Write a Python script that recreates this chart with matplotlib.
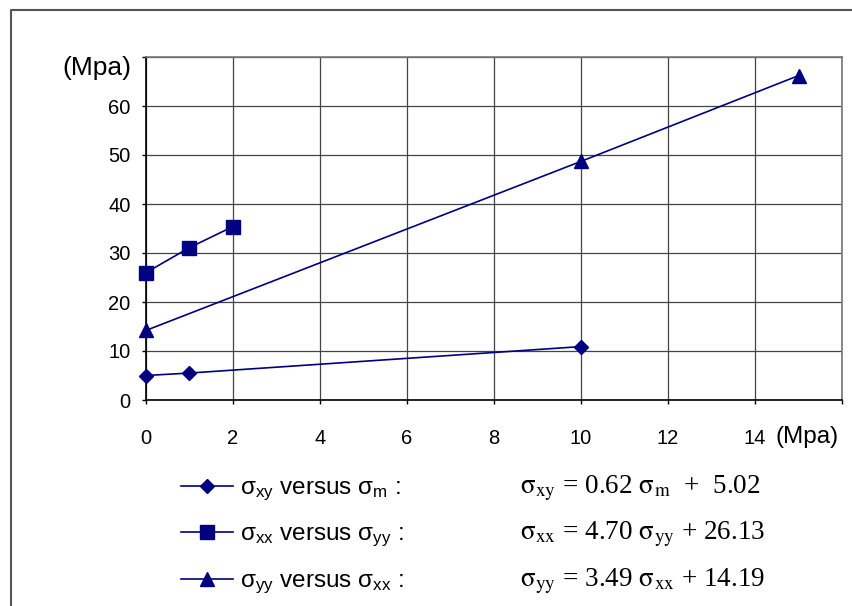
import matplotlib
matplotlib.use("Agg")
import matplotlib.pyplot as plt
from matplotlib.lines import Line2D

# Data
x_xy = [0, 1, 10]
y_xy = [5.0, 5.5, 10.9]
x_xx = [0, 1, 2]
y_xx = [26.0, 31.1, 35.4]
x_yy = [0, 10, 15]
y_yy = [14.2, 48.7, 66.2]

xticks = [0, 2, 4, 6, 8, 10, 12, 14]
yticks = [0, 10, 20, 30, 40, 50, 60, 70]
ytick_labels = ["0", "10", "20", "30", "40", "50", "60", ""]
unit_label = "(Mpa)"

legend_left = [r"$\mathrm{\sigma_{xy}}$ versus $\mathrm{\sigma_{m}}$ :",
               r"$\mathrm{\sigma_{xx}}$ versus $\mathrm{\sigma_{yy}}$ :",
               r"$\mathrm{\sigma_{yy}}$ versus $\mathrm{\sigma_{xx}}$ :"]
legend_right = [r"$\mathrm{\sigma_{xy}}$ = 0.62 $\mathrm{\sigma_{m}}$  +  5.02",
                r"$\mathrm{\sigma_{xx}}$ = 4.70 $\mathrm{\sigma_{yy}}$ + 26.13",
                r"$\mathrm{\sigma_{yy}}$ = 3.49 $\mathrm{\sigma_{xx}}$ + 14.19"]
markers = ["D", "s", "^"]
msizes = [7.5, 10, 10]

plt.rcParams['mathtext.fontset'] = 'custom'
plt.rcParams['mathtext.rm'] = 'Liberation Sans'
plt.rcParams['mathtext.it'] = 'Liberation Sans:italic'
plt.rcParams['font.family'] = ['Liberation Sans', 'DejaVu Sans']

W, H = 853, 606
fig = plt.figure(figsize=(W / 100, H / 100), dpi=100)
ax = fig.add_axes([146 / W, 1 - 400 / H, (842 - 146) / W, (400 - 57) / H])

navy = "#000080"
series = [(x_xy, y_xy), (x_xx, y_xx), (x_yy, y_yy)]
for (xs, ys), m, ms in zip(series, markers, msizes):
    ax.plot(xs, ys, color=navy, lw=1.2, marker=m, ms=ms, mfc=navy, mec=navy, clip_on=False, zorder=3)

ax.set_xlim(0, 16)
ax.set_ylim(0, 70)
ax.set_xticks(xticks + [16])
ax.set_xticklabels([str(t) for t in xticks] + [""])
ax.set_yticks(yticks)
ax.set_yticklabels(ytick_labels)
ax.tick_params(axis='both', direction='out', length=3, width=1, color='black', labelsize=14.5)
ax.tick_params(axis='y', pad=8)
ax.tick_params(axis='x', pad=18)
ax.grid(True, color='#444444', lw=0.9)
ax.set_axisbelow(True)
for s in ['top', 'right']:
    ax.spines[s].set_color('#777777')
    ax.spines[s].set_linewidth(1.2)
for s in ['left', 'bottom']:
    ax.spines[s].set_color('black')
    ax.spines[s].set_linewidth(1.2)

# unit labels
fig.text(131 / W, 1 - 68 / H, unit_label, fontsize=19, ha='right', va='center')
fig.text(839 / W, 1 - 437 / H, unit_label, fontsize=17.5, ha='right', va='center')

# outer frame
fig.add_artist(Line2D([11 / W, 11 / W, 1.0], [0.0, 1 - 10 / H, 1 - 10 / H],
                      transform=fig.transFigure, color='#555555', lw=1.5))

# legend
rows_y = [486, 532, 579]
for y, m, ms, lt, rt in zip(rows_y, markers, msizes, legend_left, legend_right):
    fy = 1 - y / H
    fig.add_artist(Line2D([181 / W, 233 / W], [fy, fy], transform=fig.transFigure,
                          color=navy, lw=1.2))
    fig.add_artist(Line2D([207 / W], [fy], transform=fig.transFigure, marker=m, ms=ms,
                          mfc=navy, mec=navy, color=navy))
    fig.text(240 / W, 1 - (y + 8) / H, lt, fontsize=17.5, ha='left', va='baseline',
             family='Liberation Sans')
    fig.text(520 / W, 1 - (y + 7) / H, rt, fontsize=19.5, ha='left', va='baseline',
             family='Liberation Serif', math_fontfamily='stix')

fig.savefig("out.png", dpi=100)
